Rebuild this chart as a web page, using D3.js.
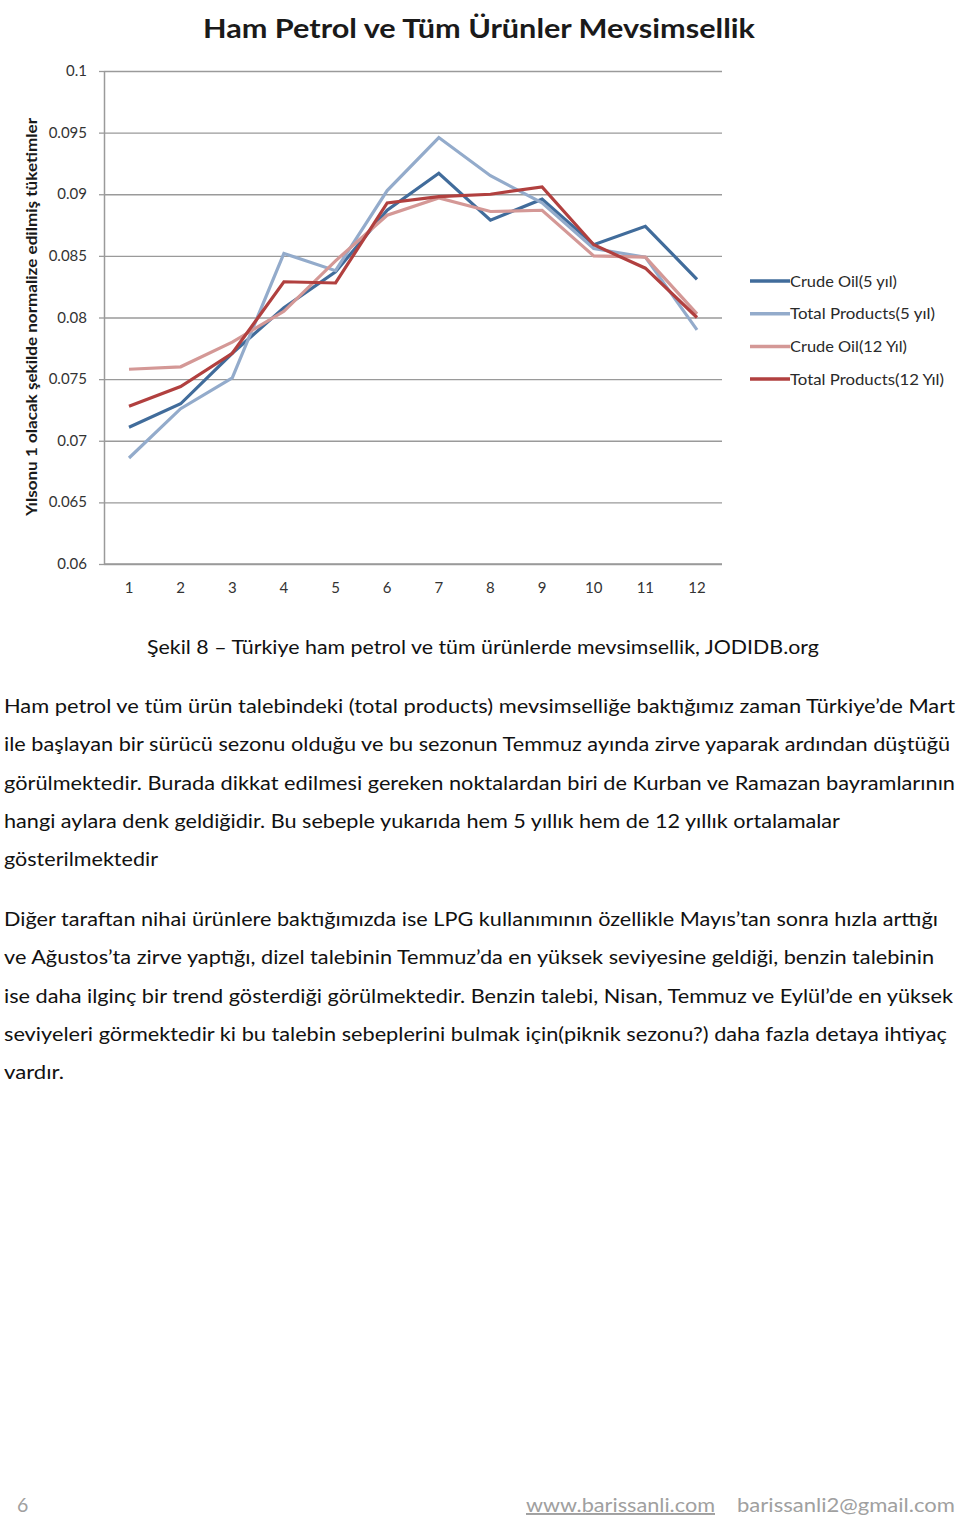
<!DOCTYPE html>
<html>
<head>
<meta charset="utf-8">
<script src="https://cdn.jsdelivr.net/npm/d3@7"></script>
<style>
  body { margin: 0; background: #fff; }
  svg text { font-family: "Lato", "Open Sans", sans-serif; }
</style>
</head>
<body>
<svg id="page" width="960" height="1520"></svg>
<script>
const months = [1, 2, 3, 4, 5, 6, 7, 8, 9, 10, 11, 12];
const crudeOil5 = [0.0711, 0.0730, 0.0771, 0.0808, 0.0837, 0.0887, 0.0917, 0.0879, 0.0896, 0.0859, 0.0874, 0.0831];
const totalProducts5 = [0.0686, 0.0726, 0.0751, 0.0852, 0.0838, 0.0903, 0.0946, 0.0915, 0.0893, 0.0856, 0.0849, 0.0790];
const crudeOil12 = [0.0758, 0.0760, 0.0780, 0.0805, 0.0846, 0.0883, 0.0897, 0.0886, 0.0887, 0.0850, 0.0849, 0.0803];
const totalProducts12 = [0.0728, 0.0744, 0.0771, 0.0829, 0.0828, 0.0893, 0.0898, 0.0900, 0.0906, 0.0859, 0.0840, 0.0800];
const seriesNames = ['Crude Oil(5 yıl)', 'Total Products(5 yıl)', 'Crude Oil(12 Yıl)', 'Total Products(12 Yıl)'];
const yTicks = [0.06, 0.065, 0.07, 0.075, 0.08, 0.085, 0.09, 0.095, 0.1];

const title = 'Ham Petrol ve Tüm Ürünler Mevsimsellik';
const yLabel = 'Yılsonu 1 olacak şekilde normalize edilmiş tüketimler';
const caption = 'Şekil 8 – Türkiye ham petrol ve tüm ürünlerde mevsimsellik, JODIDB.org';
const para1 = [
  'Ham petrol ve tüm ürün talebindeki (total products) mevsimselliğe baktığımız zaman Türkiye’de Mart',
  'ile başlayan bir sürücü sezonu olduğu ve bu sezonun Temmuz ayında zirve yaparak ardından düştüğü',
  'görülmektedir. Burada dikkat edilmesi gereken noktalardan biri de Kurban ve Ramazan bayramlarının',
  'hangi aylara denk geldiğidir. Bu sebeple yukarıda hem 5 yıllık hem de 12 yıllık ortalamalar',
  'gösterilmektedir'
];
const para2 = [
  'Diğer taraftan nihai ürünlere baktığımızda ise LPG kullanımının özellikle Mayıs’tan sonra hızla arttığı',
  've Ağustos’ta zirve yaptığı, dizel talebinin Temmuz’da en yüksek seviyesine geldiği, benzin talebinin',
  'ise daha ilginç bir trend gösterdiği görülmektedir. Benzin talebi, Nisan, Temmuz ve Eylül’de en yüksek',
  'seviyeleri görmektedir ki bu talebin sebeplerini bulmak için(piknik sezonu?) daha fazla detaya ihtiyaç',
  'vardır.'
];
// line widths as they appear on the page
const para1Widths = [951, 946, 951, 836, 154];
const para2Widths = [934, 930, 949, 943, 60];
const legendWidths = [107, 145, 117, 154];

const colors = ['#416c9b', '#93abcb', '#d49896', '#b1403f'];
const series = [crudeOil5, totalProducts5, crudeOil12, totalProducts12];

const svg = d3.select('#page');

const plot = { left: 104, right: 722, top: 71, bottom: 564 };

const xScale = d3.scaleLinear().domain([1, 12]).range([129, 697]);
const yScale = d3.scaleLinear().domain([0.06, 0.1]).range([plot.bottom, plot.top]);

// title
svg.append('text')
  .attr('x', 479).attr('y', 38)
  .attr('text-anchor', 'middle')
  .attr('font-size', 26).attr('font-weight', 'bold')
  .attr('fill', '#1a1a1a')
  .attr('textLength', 552).attr('lengthAdjust', 'spacingAndGlyphs')
  .text(title);

// gridlines
svg.append('g')
  .attr('transform', `translate(${plot.left},0)`)
  .call(d3.axisLeft(yScale).tickValues(yTicks).tickFormat('').tickSize(-(plot.right - plot.left)).tickSizeOuter(0))
  .call(g => g.select('.domain').remove())
  .call(g => g.selectAll('line').attr('stroke', '#9a9a9a').attr('stroke-width', 1.3));

// small tick marks left of axis
svg.append('g')
  .attr('transform', `translate(${plot.left},0)`)
  .call(d3.axisLeft(yScale).tickValues(yTicks).tickSize(5).tickSizeOuter(0).tickFormat(''))
  .call(g => g.selectAll('line').attr('stroke', '#9a9a9a').attr('stroke-width', 1.3))
  .call(g => g.select('.domain').attr('stroke', '#9a9a9a').attr('stroke-width', 1.5));

// y tick labels
svg.append('g')
  .selectAll('text')
  .data(yTicks)
  .join('text')
  .attr('x', 87)
  .attr('y', d => yScale(d) + 5)
  .attr('text-anchor', 'end')
  .attr('font-size', 15)
  .attr('fill', '#333')
  .text(d => d3.format('~g')(d));

// x axis
svg.append('line')
  .attr('x1', plot.left).attr('x2', plot.right)
  .attr('y1', plot.bottom).attr('y2', plot.bottom)
  .attr('stroke', '#9a9a9a').attr('stroke-width', 1.5);

svg.append('g')
  .selectAll('text')
  .data(months)
  .join('text')
  .attr('x', d => xScale(d))
  .attr('y', 593)
  .attr('text-anchor', 'middle')
  .attr('font-size', 15)
  .attr('fill', '#333')
  .text(d => d);

// y label
svg.append('text')
  .attr('transform', `translate(37,317) rotate(-90)`)
  .attr('text-anchor', 'middle')
  .attr('font-size', 15).attr('font-weight', 'bold')
  .attr('fill', '#1a1a1a')
  .attr('textLength', 398).attr('lengthAdjust', 'spacingAndGlyphs')
  .text(yLabel);

// lines
const line = d3.line()
  .x((d, i) => xScale(months[i]))
  .y(d => yScale(d));

svg.append('g')
  .selectAll('path')
  .data(series)
  .join('path')
  .attr('d', line)
  .attr('fill', 'none')
  .attr('stroke', (d, i) => colors[i])
  .attr('stroke-width', 3.2)
  .attr('stroke-linejoin', 'miter');

// legend
const legend = svg.append('g')
  .selectAll('g')
  .data(seriesNames)
  .join('g')
  .attr('transform', (d, i) => `translate(750,${281 + i * 32.7})`);

legend.append('line')
  .attr('x1', 0).attr('x2', 40)
  .attr('stroke', (d, i) => colors[i])
  .attr('stroke-width', 3.5);

legend.append('text')
  .attr('x', 40).attr('y', 5.5)
  .attr('font-size', 16)
  .attr('fill', '#2a2a2a')
  .attr('textLength', (d, i) => legendWidths[i]).attr('lengthAdjust', 'spacingAndGlyphs')
  .text(d => d);

// caption and body text
svg.append('text')
  .attr('x', 483).attr('y', 654)
  .attr('text-anchor', 'middle')
  .attr('font-size', 19.5)
  .attr('fill', '#111')
  .attr('textLength', 672).attr('lengthAdjust', 'spacingAndGlyphs')
  .text(caption);

function paragraph(lines, widths, y0) {
  lines.forEach((t, i) => {
    svg.append('text')
      .attr('x', 4).attr('y', y0 + i * 38.3)
      .attr('font-size', 19.5)
      .attr('fill', '#111')
      .attr('textLength', widths[i]).attr('lengthAdjust', 'spacingAndGlyphs')
      .text(t);
  });
}
paragraph(para1, para1Widths, 713);
paragraph(para2, para2Widths, 926);

// footer
svg.append('text')
  .attr('x', 17).attr('y', 1512)
  .attr('font-size', 19.5).attr('fill', '#a0a0a0')
  .text('6');

svg.append('text')
  .attr('x', 526).attr('y', 1512)
  .attr('font-size', 19.5).attr('fill', '#a0a0a0')
  .attr('text-decoration', 'underline')
  .attr('textLength', 189).attr('lengthAdjust', 'spacingAndGlyphs')
  .text('www.barissanli.com');

svg.append('text')
  .attr('x', 737).attr('y', 1512)
  .attr('font-size', 19.5).attr('fill', '#a0a0a0')
  .attr('textLength', 218).attr('lengthAdjust', 'spacingAndGlyphs')
  .text('barissanli2@gmail.com');
</script>
</body>
</html>
